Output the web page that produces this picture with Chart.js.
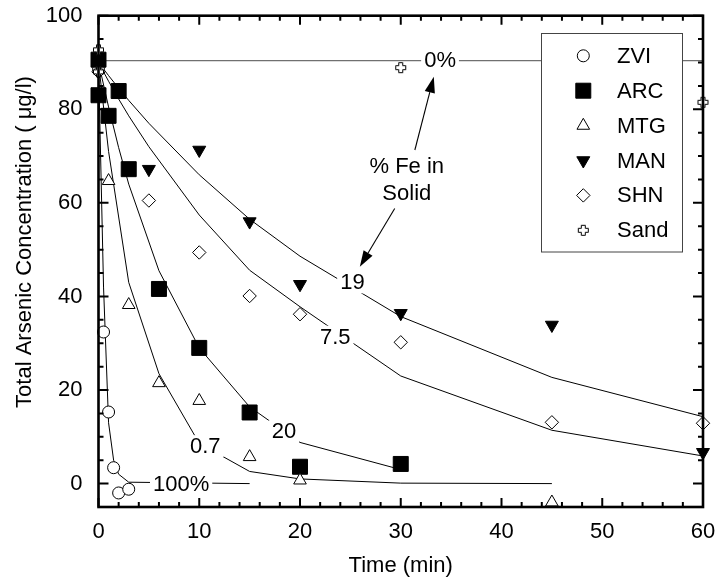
<!DOCTYPE html>
<html><head><meta charset="utf-8">
<script src="https://cdn.jsdelivr.net/npm/chart.js@4/dist/chart.umd.min.js"></script>
<style>html,body{margin:0;padding:0;background:#fff;}</style>
</head><body>
<canvas id="c" width="715" height="586"></canvas>
<script>
// ---- measured data (time in min, concentration in ug/l) ----
const zviTime  = [0, 0.5, 1, 1.5, 2, 3];
const zviConc  = [88.5, 32.4, 15.3, 3.4, -2.0, -1.2];
const arcTime  = [0, 0, 1, 2, 3, 6, 10, 15, 20, 30];
const arcConc  = [90.6, 83, 78.6, 83.9, 67.2, 41.6, 29, 15.2, 3.6, 4.2];
const mtgTime  = [1, 3, 6, 10, 15, 20, 45];
const mtgConc  = [64.7, 38.2, 21.5, 17.7, 5.7, 0.7, -4];
const manTime  = [0, 5, 10, 15, 20, 30, 45, 60];
const manConc  = [90, 67.2, 71.3, 56, 42.6, 36.4, 33.9, 6.7];
const shnTime  = [0, 5, 10, 15, 20, 30, 45, 60];
const shnConc  = [88, 60.5, 49.4, 40.1, 36.2, 30.2, 13.1, 12.9];
const sandTime = [0, 0, 30, 60];
const sandConc = [92.7, 88, 88.9, 81.5];

// ---- model curves ( % Fe in solid ) ----
const fit0Time   = [0, 60];
const fit0Conc   = [90.4, 90.4];
const fit100Time = [0, 0.5, 1, 1.5, 2, 3, 15];
const fit100Conc = [90, 42, 13, 5, 2, 0.3, 0];
const fit07Time  = [0, 1, 3, 6, 10, 15, 20, 30, 45];
const fit07Conc  = [90, 71, 43, 23.5, 8.6, 2.6, 1, 0.1, 0];
const fit20Time  = [0, 1, 2, 3, 6, 10, 15, 20, 30];
const fit20Conc  = [90, 80.5, 71.8, 64, 45.5, 29, 16.4, 8.8, 3.0];
const fit75Time  = [0, 1, 2, 3, 5, 10, 15, 20, 30, 45, 60];
const fit75Conc  = [90, 86, 82.2, 78.6, 72, 57.4, 45.6, 37.8, 23, 11.4, 5.9];
const fit19Time  = [0, 1, 2, 3, 5, 10, 15, 20, 30, 45, 60];
const fit19Conc  = [90, 87.2, 84.5, 81.9, 77, 66, 56.5, 48.6, 35.7, 22.7, 14.3];

// ---- labels ----
const seriesNames   = ['ZVI', 'ARC', 'MTG', 'MAN', 'SHN', 'Sand'];
const curveLabels   = ['100%', '0.7', '20', '7.5', '19', '0%'];
const curveLabelT   = [8.2, 10.6, 18.4, 23.5, 25.2, 33.9];
const curveLabelC   = [0, 8, 11.2, 31.4, 43, 90.5];
const noteLines     = ['% Fe in', 'Solid'];
const xTitle = 'Time (min)';
const yTitle = 'Total Arsenic Concentration ( \u03bcg/l)';

const FONT_FAMILY = '"Liberation Sans", Arial, Helvetica, sans-serif';
const FONT = '22px ' + FONT_FAMILY;

function pts(t, c) { return t.map((v, i) => ({x: v, y: c[i]})); }

function makeCross() {
  const c = document.createElement('canvas'); c.width = 13; c.height = 13;
  const g = c.getContext('2d');
  const a = 4.5, b = 8.5, lo = 1.5, hi = 11.5;
  g.beginPath();
  g.moveTo(a, lo); g.lineTo(b, lo); g.lineTo(b, a); g.lineTo(hi, a); g.lineTo(hi, b);
  g.lineTo(b, b); g.lineTo(b, hi); g.lineTo(a, hi); g.lineTo(a, b); g.lineTo(lo, b);
  g.lineTo(lo, a); g.lineTo(a, a); g.closePath();
  g.fillStyle = '#fff'; g.fill(); g.strokeStyle = '#000'; g.lineWidth = 1; g.stroke();
  return c;
}
const crossImg = makeCross();

const markerStyles = {
  ZVI:  {pointStyle: 'circle',   radius: 6,    rotation: 0,   fill: '#fff'},
  ARC:  {pointStyle: 'rect',     radius: 10.6, rotation: 0,   fill: '#000'},
  MTG:  {pointStyle: 'triangle', radius: 7.3,  rotation: 0,   fill: '#fff'},
  MAN:  {pointStyle: 'triangle', radius: 7.5,  rotation: 180, fill: '#000'},
  SHN:  {pointStyle: 'rectRot',  radius: 6.7,  rotation: 0,   fill: '#fff'},
  Sand: {pointStyle: crossImg,   radius: 6,    rotation: 0,   fill: '#fff'}
};

function markerSet(name, t, c) {
  const s = markerStyles[name];
  return {
    label: name, data: pts(t, c), showLine: false, clip: false, order: 0,
    pointStyle: s.pointStyle, pointRadius: s.radius, pointRotation: s.rotation,
    pointBackgroundColor: s.fill, pointBorderColor: '#000', pointBorderWidth: 1,
    pointHoverRadius: s.radius
  };
}
function curveSet(t, c, color, w) {
  return {
    label: '', data: pts(t, c), showLine: true, order: 1, pointRadius: 0, pointHoverRadius: 0,
    borderColor: color, borderWidth: w, tension: 0, fill: false
  };
}

// markers: drawn last-index first, so Sand (index 0) ends on top
const datasets = [
  markerSet('Sand', sandTime, sandConc),
  markerSet('SHN', shnTime, shnConc),
  markerSet('MAN', manTime, manConc),
  markerSet('MTG', mtgTime, mtgConc),
  markerSet('ARC', arcTime, arcConc),
  markerSet('ZVI', zviTime, zviConc),
  curveSet(fit0Time, fit0Conc, '#707070', 1.4),
  curveSet(fit100Time, fit100Conc, '#000', 1),
  curveSet(fit07Time, fit07Conc, '#000', 1),
  curveSet(fit20Time, fit20Conc, '#000', 1),
  curveSet(fit75Time, fit75Conc, '#000', 1),
  curveSet(fit19Time, fit19Conc, '#000', 1)
];
const FIRST_CURVE = 6;

// annotation geometry (data units)
const arrows = [
  {from: [31.4, 71.3], to: [33.28, 86.96]},
  {from: [29.4, 58.8], to: [25.94, 46.36]}
];
const notePos = [30.6, 67.9, 62.1];

function drawArrow(ctx, x1, y1, x2, y2) {
  const ang = Math.atan2(y2 - y1, x2 - x1);
  const L = 16, W = 5.2;
  const bx = x2 - L * Math.cos(ang), by = y2 - L * Math.sin(ang);
  ctx.beginPath(); ctx.moveTo(x1, y1); ctx.lineTo(bx, by); ctx.lineWidth = 1.1; ctx.strokeStyle = '#000'; ctx.stroke();
  ctx.beginPath();
  ctx.moveTo(x2, y2);
  ctx.lineTo(bx + W * Math.sin(ang), by - W * Math.cos(ang));
  ctx.lineTo(bx - W * Math.sin(ang), by + W * Math.cos(ang));
  ctx.closePath(); ctx.fillStyle = '#000'; ctx.fill();
}

function drawMarker(ctx, name, x, y) {
  const s = markerStyles[name];
  ctx.save();
  ctx.fillStyle = s.fill; ctx.strokeStyle = '#000'; ctx.lineWidth = 1;
  if (Chart.helpers && Chart.helpers.drawPoint) {
    Chart.helpers.drawPoint(ctx, {pointStyle: s.pointStyle, radius: s.radius, rotation: s.rotation, borderWidth: 1}, x, y);
  }
  ctx.restore();
}

const deco = {
  id: 'deco',
  afterDatasetDraw(chart, args) {
    if (args.index !== FIRST_CURVE) return;
    const ctx = chart.ctx, xs = chart.scales.x, ys = chart.scales.y;
    ctx.save();
    ctx.font = FONT; ctx.textAlign = 'center'; ctx.textBaseline = 'middle';
    curveLabels.forEach((txt, i) => {
      const px = xs.getPixelForValue(curveLabelT[i]);
      const py = ys.getPixelForValue(curveLabelC[i]);
      const w = ctx.measureText(txt).width;
      ctx.fillStyle = '#fff';
      ctx.fillRect(px - w / 2 - 3, py - 11, w + 6, 22);
      ctx.fillStyle = '#000';
      ctx.fillText(txt, px, py + 1);
    });
    ctx.restore();
  },
  afterDatasetsDraw(chart) {
    const ctx = chart.ctx, xs = chart.scales.x, ys = chart.scales.y;
    ctx.save();
    ctx.font = FONT; ctx.fillStyle = '#000'; ctx.textAlign = 'center'; ctx.textBaseline = 'middle';
    ctx.fillText(noteLines[0], xs.getPixelForValue(notePos[0]), ys.getPixelForValue(notePos[1]) + 1);
    ctx.fillText(noteLines[1], xs.getPixelForValue(notePos[0]), ys.getPixelForValue(notePos[2]) + 1);
    arrows.forEach(a => drawArrow(ctx,
      xs.getPixelForValue(a.from[0]), ys.getPixelForValue(a.from[1]),
      xs.getPixelForValue(a.to[0]), ys.getPixelForValue(a.to[1])));
    // legend box
    const L = 541.5, T = 33.5, R = 682.5, B = 252;
    ctx.fillStyle = '#fff'; ctx.fillRect(L, T, R - L, B - T);
    ctx.strokeStyle = '#444'; ctx.lineWidth = 1; ctx.strokeRect(L, T, R - L, B - T);
    seriesNames.forEach((n, i) => {
      const y = 55.8 + i * 34.9;
      drawMarker(ctx, n, 583.3, y);
      ctx.font = FONT; ctx.fillStyle = '#000'; ctx.textAlign = 'left'; ctx.textBaseline = 'middle';
      ctx.fillText(n, 617, y + 1);
    });
    ctx.restore();
  },
  afterDraw(chart) {
    const ctx = chart.ctx, a = chart.chartArea, xs = chart.scales.x, ys = chart.scales.y;
    ctx.save();
    ctx.strokeStyle = '#000';
    ctx.lineWidth = 2;
    ctx.beginPath();
    xs.ticks.forEach(t => {
      const p = xs.getPixelForValue(t.value);
      const len = (t.value % 10 === 0) ? 9 : 5;
      ctx.moveTo(p, a.bottom); ctx.lineTo(p, a.bottom - len);
      ctx.moveTo(p, a.top); ctx.lineTo(p, a.top + len);
    });
    ys.ticks.forEach(t => {
      const p = ys.getPixelForValue(t.value);
      const len = (t.value % 20 === 0) ? 10 : 5;
      ctx.moveTo(a.left, p); ctx.lineTo(a.left + len, p);
      ctx.moveTo(a.right, p); ctx.lineTo(a.right - len, p);
    });
    ctx.stroke();
    ctx.lineWidth = 2.6;
    ctx.strokeRect(a.left, a.top, a.right - a.left, a.bottom - a.top);
    ctx.font = FONT; ctx.fillStyle = '#000'; ctx.textAlign = 'center'; ctx.textBaseline = 'middle';
    ctx.translate(25, 242); ctx.rotate(-Math.PI / 2);
    ctx.fillText(yTitle, 0, 0);
    ctx.restore();
  }
};

Chart.defaults.font.family = FONT_FAMILY;
Chart.defaults.color = '#000';

new Chart(document.getElementById('c'), {
  type: 'scatter',
  data: {datasets},
  options: {
    responsive: false, animation: false, devicePixelRatio: 1, events: [],
    layout: {padding: {left: 0, right: 12, top: 15.7, bottom: 0}},
    plugins: {legend: {display: false}, tooltip: {enabled: false}},
    scales: {
      x: {
        type: 'linear', min: 0, max: 60,
        grid: {display: false, drawTicks: false}, border: {display: false},
        ticks: {stepSize: 2, autoSkip: false, maxRotation: 0, padding: 12,
          font: {size: 22}, color: '#000',
          callback: v => (v % 10 === 0 ? String(v) : '')},
        title: {display: true, text: xTitle, font: {size: 22}, color: '#000', padding: {top: 0, bottom: 7}},
        afterFit: s => { s.height = 79; s.paddingLeft = 0; s.paddingRight = 0; }
      },
      y: {
        type: 'linear', min: -5, max: 100,
        grid: {display: false, drawTicks: false}, border: {display: false},
        ticks: {stepSize: 5, autoSkip: false, padding: 16,
          font: {size: 22}, color: '#000',
          callback: v => (v % 20 === 0 ? String(v) : '')},
        title: {display: false},
        afterFit: s => { s.width = 98.5; s.paddingTop = 0; s.paddingBottom = 0; }
      }
    }
  },
  plugins: [deco]
});
</script>
</body></html>
